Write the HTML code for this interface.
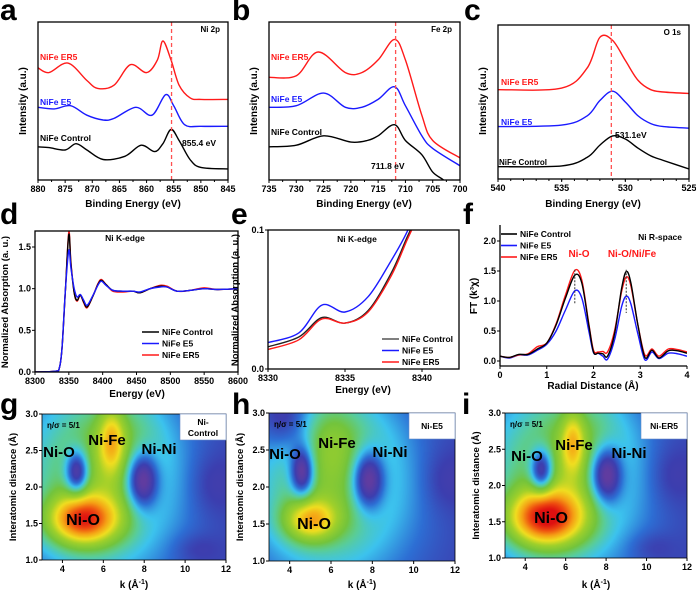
<!DOCTYPE html>
<html><head><meta charset="utf-8">
<style>
html,body{margin:0;padding:0;background:#fff;}
#wrap{position:relative;width:696px;height:591px;overflow:hidden;background:#fff;}
canvas{position:absolute;}
svg{position:absolute;left:0;top:0;}
text{font-family:"Liberation Sans",Arial,sans-serif;font-weight:bold;}
</style></head>
<body>
<div id="wrap">
<canvas id="hg" width="184" height="146" style="left:42px;top:414px"></canvas>
<canvas id="hh" width="186" height="148" style="left:269px;top:413px"></canvas>
<canvas id="hi" width="182" height="145" style="left:505px;top:413px"></canvas>
<svg id="fig" width="696" height="591"></svg>
</div>
<script>
// ---------- DATA ----------
const aCtrlX=[880,878,875,873,871,868,864,861,858.5,857,855.5,854,852,850,845];
const aCtrlY=[0.21,0.205,0.19,0.23,0.19,0.13,0.15,0.22,0.18,0.23,0.32,0.25,0.13,0.08,0.07];
const aE5X=[880,877,874,871,868,866,862,859,856.5,855,853,850,845];
const aE5Y=[0.46,0.45,0.47,0.41,0.38,0.39,0.46,0.41,0.54,0.47,0.35,0.34,0.34];
const aER5X=[880,878,874.5,871,869,866,863,860,858,857,855.5,854,852,850,845];
const aER5Y=[0.71,0.68,0.74,0.63,0.58,0.60,0.73,0.68,0.76,0.88,0.76,0.60,0.52,0.51,0.51];
const bCtrlX=[735,730,725,720,717,715,712,710,707,705,703,701];
const bCtrlY=[0.21,0.22,0.28,0.24,0.25,0.28,0.35,0.25,0.16,0.05,0.0,-0.06];
const bE5X=[735,730,725,721,718,715,712,710,707,705,700];
const bE5Y=[0.46,0.47,0.55,0.46,0.46,0.51,0.59,0.47,0.28,0.20,0.09];
const bER5X=[735,730,726,721,718,715,712,710,707,705,700];
const bER5Y=[0.65,0.66,0.81,0.68,0.68,0.76,0.89,0.76,0.41,0.25,0.14];
const cX=[540,535,533,532,531,530,529,528,527,525];
const cCtrlY=[0.08,0.085,0.14,0.22,0.28,0.26,0.2,0.15,0.12,0.065];
const cE5Y=[0.34,0.35,0.41,0.51,0.57,0.50,0.41,0.36,0.34,0.33];
const cER5Y=[0.58,0.59,0.72,0.92,0.90,0.77,0.64,0.58,0.565,0.555];
const dX=[8300,8330,8336,8340,8345,8350,8353,8358,8362,8367,8372,8377,8385,8393,8398,8405,8415,8430,8445,8455,8470,8485,8495,8510,8530,8550,8570,8600];
const dCtrlY=[0,0.01,0.05,0.3,1.0,1.65,1.3,0.95,0.86,0.92,0.84,0.78,0.9,1.05,1.1,1.05,0.98,0.97,0.97,0.95,1.0,1.03,1.02,0.97,0.98,1.0,0.99,1.0];
const dE5Y=[0,0.01,0.05,0.3,1.0,1.46,1.25,1.0,0.9,0.93,0.86,0.8,0.91,1.04,1.09,1.04,0.98,0.97,0.97,0.96,1.0,1.02,1.02,0.97,0.98,1.0,0.99,1.0];
const dER5Y=[0,0.01,0.05,0.3,1.0,1.68,1.32,0.95,0.85,0.92,0.83,0.77,0.9,1.06,1.11,1.05,0.97,0.96,0.97,0.95,1.0,1.04,1.03,0.97,0.98,1.01,0.99,1.0];
const eX=[8330,8332,8333.5,8335,8336.5,8338,8339,8339.5];
const eCtrlY=[0.016,0.023,0.037,0.033,0.042,0.069,0.094,0.106];
const eE5Y=[0.019,0.026,0.046,0.041,0.052,0.078,0.098,0.112];
const eER5Y=[0.014,0.021,0.036,0.033,0.041,0.067,0.092,0.104];
const fX=[0,0.2,0.4,0.6,0.8,1.0,1.2,1.4,1.6,1.75,1.9,2.0,2.1,2.2,2.3,2.45,2.6,2.7,2.8,2.95,3.1,3.25,3.4,3.6,3.8,4.0];
const fCtrlY=[0.08,0.06,0.11,0.11,0.2,0.3,0.6,1.05,1.43,1.3,0.6,0.15,0.13,0.12,0.08,0.45,1.2,1.49,1.3,0.6,0.06,0.18,0.05,0.17,0.17,0.13];
const fE5Y=[0.08,0.05,0.1,0.1,0.18,0.28,0.5,0.85,1.17,1.05,0.5,0.14,0.13,0.08,0.03,0.35,0.9,1.08,0.95,0.45,0.02,0.15,0.04,0.13,0.12,0.08];
const fER5Y=[0.08,0.06,0.1,0.12,0.24,0.3,0.62,1.1,1.51,1.35,0.62,0.18,0.15,0.16,0.15,0.5,1.15,1.4,1.25,0.6,0.1,0.2,0.08,0.2,0.19,0.15];
// Heatmap blobs (k, R, amplitude, sigmaK, sigmaR)
const gK=[5.8,7.0,5.0,6.4,4.7,7.9,11.3,10.5];
const gR=[2.1,2.7,1.55,2.65,2.2,2.1,2.05,1.15];
const gA=[0.36,0.08,0.6,0.3,-0.4,-0.4,-0.06,-0.05];
const gSK=[2.8,1.5,1.2,0.45,0.4,0.55,0.8,0.8];
const gSR=[0.95,0.4,0.24,0.32,0.22,0.28,0.3,0.15];
const hK=[6.0,7.0,5.0,6.0,4.6,7.8,3.8,11.5];
const hR=[2.0,2.7,1.55,2.7,2.2,2.1,2.9,2.1];
const hA=[0.34,0.06,0.4,0.08,-0.4,-0.4,-0.15,-0.06];
const hSK=[2.8,1.5,0.9,0.8,0.4,0.55,0.8,0.8];
const hSR=[0.9,0.4,0.2,0.4,0.24,0.28,0.3,0.3];
const iK=[5.8,7.0,5.0,6.35,4.8,8.0,11.2,10.2];
const iR=[2.1,2.7,1.55,2.6,2.2,2.15,2.15,1.15];
const iA=[0.36,0.08,0.66,0.28,-0.4,-0.4,-0.06,-0.05];
const iSK=[2.8,1.5,1.3,0.4,0.4,0.55,0.8,0.8];
const iSR=[0.95,0.4,0.27,0.3,0.22,0.28,0.3,0.15];

// ---------- HELPERS ----------
const NS='http://www.w3.org/2000/svg';
const svg=document.getElementById('fig');
function mk(tag,parent){const e=document.createElementNS(NS,tag);(parent||svg).appendChild(e);return e;}
function txt(x,y,s,size,fill,anchor,rot){
  const t=mk('text');t.setAttribute('x',x);t.setAttribute('y',y);
  t.setAttribute('font-size',size);t.setAttribute('fill',fill||'#000');
  t.setAttribute('text-anchor',anchor||'start');
  if(rot){t.setAttribute('transform','rotate('+rot+' '+x+' '+y+')');}
  t.textContent=s;return t;}
function lin(d0,d1,r0,r1){return v=>r0+(v-d0)/(d1-d0)*(r1-r0);}
function smoothPath(px,py){
  let d='M'+px[0].toFixed(1)+','+py[0].toFixed(1);
  for(let i=0;i<px.length-1;i++){
    const x0=px[Math.max(i-1,0)],y0=py[Math.max(i-1,0)],x1=px[i],y1=py[i],x2=px[i+1],y2=py[i+1];
    const x3=px[Math.min(i+2,px.length-1)],y3=py[Math.min(i+2,px.length-1)];
    const c1x=x1+(x2-x0)/6,c1y=y1+(y2-y0)/6,c2x=x2-(x3-x1)/6,c2y=y2-(y3-y1)/6;
    d+=' C'+c1x.toFixed(1)+','+c1y.toFixed(1)+' '+c2x.toFixed(1)+','+c2y.toFixed(1)+' '+x2.toFixed(1)+','+y2.toFixed(1);
  }return d;}
let clipN=0;
function clipFor(b){
  const id='clip'+(clipN++);const cp=mk('clipPath');cp.setAttribute('id',id);
  const r=mk('rect',cp);r.setAttribute('x',b.x);r.setAttribute('y',b.y);r.setAttribute('width',b.w);r.setAttribute('height',b.h);
  return id;}
function series(b,sx,sy,xs,ys,color,clip){
  const p=mk('path');p.setAttribute('d',smoothPath(xs.map(sx),ys.map(sy)));
  p.setAttribute('fill','none');p.setAttribute('stroke',color);p.setAttribute('stroke-width','1.4');
  p.setAttribute('clip-path','url(#'+clip+')');return p;}
function frame(b){
  const r=mk('rect');r.setAttribute('x',b.x);r.setAttribute('y',b.y);r.setAttribute('width',b.w);r.setAttribute('height',b.h);
  r.setAttribute('fill','none');r.setAttribute('stroke','#000');r.setAttribute('stroke-width','1.3');return r;}
function xticks(b,sx,vals,labels,minor){
  vals.forEach((v,i)=>{
    const l=mk('line');l.setAttribute('x1',sx(v));l.setAttribute('x2',sx(v));l.setAttribute('y1',b.y+b.h);l.setAttribute('y2',b.y+b.h+3);l.setAttribute('stroke','#000');
    
    
    const t=txt(sx(v),b.y+b.h+12,labels[i],9,'#000','middle');
    
    
  });
  (minor||[]).forEach(v=>{const l=mk('line');l.setAttribute('x1',sx(v));l.setAttribute('x2',sx(v));l.setAttribute('y1',b.y+b.h);l.setAttribute('y2',b.y+b.h+2);l.setAttribute('stroke','#000');
    
    });
}
function yticks(b,sy,vals,labels){
  vals.forEach((v,i)=>{
    const l=mk('line');l.setAttribute('x1',b.x-3);l.setAttribute('x2',b.x);l.setAttribute('y1',sy(v));l.setAttribute('y2',sy(v));l.setAttribute('stroke','#000');
    
    
    const t=txt(b.x-4,sy(v)+3,labels[i],9,'#000','end');
    
    
  });
}
function vdash(b,sx,v,color,dash,y1,y2){
  const l=mk('line');l.setAttribute('x1',sx(v));l.setAttribute('x2',sx(v));l.setAttribute('y1',y1===undefined?b.y:y1);l.setAttribute('y2',y2===undefined?b.y+b.h:y2);
  l.setAttribute('stroke',color);l.setAttribute('stroke-width','1.3');l.setAttribute('stroke-dasharray',dash);return l;}
function range(a,b,s){const r=[];for(let v=a;s>0?v<=b+1e-9:v>=b-1e-9;v+=s)r.push(+v.toFixed(3));return r;}
function letter(x,y,s){const t=txt(x,y,s,30,'#000','start');}

const RED='#ff1a1a',BLUE='#1a1aff',BLACK='#000';

// ---------- PANEL A ----------
{const b={x:38,y:22,w:190,h:158};const sx=lin(880,845,b.x,b.x+b.w),sy=lin(0,1,b.y+b.h,b.y);const cl=clipFor(b);
 let p=series(b,sx,sy,aCtrlX,aCtrlY,BLACK,cl);
 p=series(b,sx,sy,aE5X,aE5Y,BLUE,cl);
 p=series(b,sx,sy,aER5X,aER5Y,RED,cl);
 p=vdash(b,sx,855.4,'#ff5050','4,3');
 p=frame(b);
 xticks(b,sx,range(880,845,-5),range(880,845,-5).map(String),range(877.5,847.5,-5));
 let t=txt(220,32,'Ni 2p',8,'#000','end');
 t=txt(40,60,'NiFe ER5',8.5,RED);
 t=txt(40,105,'NiFe E5',8.5,BLUE);
 t=txt(40,141,'NiFe Control',8.5,BLACK);
 t=txt(182,146,'855.4 eV',8.5,BLACK);
 t=txt(26,101,'Intensity (a.u.)',10,'#000','middle',-90);
 t=txt(133,207,'Binding Energy (eV)',10,'#000','middle');
 letter(0,20,'a');}
// ---------- PANEL B ----------
{const b={x:269,y:22,w:191,h:158};const sx=lin(735,700,b.x,b.x+b.w),sy=lin(0,1,b.y+b.h,b.y);const cl=clipFor(b);
 let p=series(b,sx,sy,bCtrlX,bCtrlY,BLACK,cl);
 p=series(b,sx,sy,bE5X,bE5Y,BLUE,cl);
 p=series(b,sx,sy,bER5X,bER5Y,RED,cl);
 p=vdash(b,sx,711.8,'#ff5050','4,3');
 p=frame(b);
 xticks(b,sx,range(735,700,-5),range(735,700,-5).map(String),range(732.5,702.5,-5));
 let t=txt(452,32,'Fe 2p',8,'#000','end');
 t=txt(271,60,'NiFe ER5',8.5,RED);
 t=txt(271,102,'NiFe E5',8.5,BLUE);
 t=txt(271,135,'NiFe Control',8.5,BLACK);
 t=txt(371,169,'711.8 eV',8.5,BLACK);
 t=txt(257,101,'Intensity (a.u.)',10,'#000','middle',-90);
 t=txt(364,207,'Binding Energy (eV)',10,'#000','middle');
 letter(232,20,'b');}
// ---------- PANEL C ----------
{const b={x:498,y:25,w:191,h:154};const sx=lin(540,525,b.x,b.x+b.w),sy=lin(0,1,b.y+b.h,b.y);const cl=clipFor(b);
 let p=series(b,sx,sy,cX,cCtrlY,BLACK,cl);
 p=series(b,sx,sy,cX,cE5Y,BLUE,cl);
 p=series(b,sx,sy,cX,cER5Y,RED,cl);
 p=vdash(b,sx,531.1,'#ff5050','4,3');
 p=frame(b);
 xticks(b,sx,range(540,525,-5),range(540,525,-5).map(String),range(539,526,-1));
 let t=txt(681,35,'O 1s',8,'#000','end');
 t=txt(501,85,'NiFe ER5',8.5,RED);
 t=txt(501,125,'NiFe E5',8.5,BLUE);
 t=txt(499,165,'NiFe Control',8,BLACK);
 t=txt(615,138,'531.1eV',8.5,BLACK);
 t=txt(486,101,'Intensity (a.u.)',10,'#000','middle',-90);
 t=txt(593,207,'Binding Energy (eV)',10,'#000','middle');
 letter(464,20,'c');}
// ---------- PANEL D ----------
function legend(x,y,dy,lx,items,prefix){
  items.forEach((it,i)=>{
    const l=mk('line');l.setAttribute('x1',x);l.setAttribute('x2',x+lx);l.setAttribute('y1',y+i*dy);l.setAttribute('y2',y+i*dy);l.setAttribute('stroke',it[1]);l.setAttribute('stroke-width','1.6');
    
    
    const t=txt(x+lx+3,y+i*dy+3,it[0],8.5,'#000');
    
    
  });}
const LEG=[['NiFe Control',BLACK],['NiFe E5',BLUE],['NiFe ER5',RED]];
{const b={x:35,y:231,w:203,h:141};const sx=lin(8300,8600,b.x,b.x+b.w),sy=lin(0,1.5,b.y+b.h,247);const cl=clipFor(b);
 let p=series(b,sx,sy,dX,dER5Y,RED,cl);
 p=series(b,sx,sy,dX,dCtrlY,BLACK,cl);
 p=series(b,sx,sy,dX,dE5Y,BLUE,cl);
 p=frame(b);
 xticks(b,sx,range(8300,8600,50),range(8300,8600,50).map(String));
 yticks(b,sy,[0,0.5,1,1.5],['0.0','0.5','1.0','1.5']);
 legend(142,332,11.5,17,LEG,'d');
 let t=txt(125,241,'Ni K-edge',8.5,'#000','middle');
 t=txt(8,302,'Normalized Absorption (a. u.)',9.5,'#000','middle',-90);
 t=txt(137,397,'Energy (eV)',10,'#000','middle');
 letter(0,224,'d');}
// ---------- PANEL E ----------
{const b={x:268,y:230,w:191,h:139};const sx=lin(8330,8340,b.x,422),sy=lin(0,0.1,b.y+b.h,b.y);const cl=clipFor(b);
 let p=series(b,sx,sy,eX,eCtrlY,'#222',cl);
 p=series(b,sx,sy,eX,eER5Y,RED,cl);
 p=series(b,sx,sy,eX,eE5Y,BLUE,cl);
 p=frame(b);
 xticks(b,sx,[8330,8335,8340],['8330','8335','8340']);
 yticks(b,sy,[0,0.1],['0.0','0.1']);
 legend(382,339,11.5,17,[['NiFe Control','#555'],['NiFe E5',BLUE],['NiFe ER5',RED]],'e');
 let t=txt(357,242,'Ni K-edge',8.5,'#000','middle');
 t=txt(238,300,'Normalized Absorption (a. u.)',9.5,'#000','middle',-90);
 t=txt(363,393,'Energy (eV)',10,'#000','middle');
 letter(231,224,'e');}
// ---------- PANEL F ----------
{const b={x:500,y:225,w:187,h:141};const sx=lin(0,4,b.x,b.x+b.w),sy=lin(0,2,361,241);const cl=clipFor(b);
 let p=series(b,sx,sy,fX,fE5Y,BLUE,cl);
 p=series(b,sx,sy,fX,fER5Y,RED,cl);
 p=series(b,sx,sy,fX,fCtrlY,BLACK,cl);
 p=vdash(b,sx,1.6,'#333','2,1.5',sy(1.52),sy(0.95));p.setAttribute('stroke-width','1');
 p=vdash(b,sx,2.7,'#333','2,1.5',sy(1.52),sy(0.8));p.setAttribute('stroke-width','1');
 p=mk('line');p.setAttribute('x1',b.x);p.setAttribute('x2',b.x);p.setAttribute('y1',b.y);p.setAttribute('y2',b.y+b.h);p.setAttribute('stroke','#000');p.setAttribute('stroke-width','1.3');
 
 p=mk('line');p.setAttribute('x1',b.x);p.setAttribute('x2',b.x+b.w);p.setAttribute('y1',b.y+b.h);p.setAttribute('y2',b.y+b.h);p.setAttribute('stroke','#000');p.setAttribute('stroke-width','1.3');
 
 xticks(b,sx,[0,1,2,3,4],['0','1','2','3','4']);
 yticks(b,sy,[0,0.5,1,1.5,2],['0.0','0.5','1.0','1.5','2.0']);
 legend(501,234,11.5,16,LEG,'f');
 let t=txt(682,240,'Ni R-space',8.5,'#000','end');
 t=txt(579,257,'Ni-O',10,RED,'middle');
 t=txt(632,257,'Ni-O/Ni/Fe',10,RED,'middle');
 t=txt(477,296,'FT (k\u00B3\u03C7)',10,'#000','middle',-90);
 t=txt(593,389,'Radial Distance (\u00C5)',10,'#000','middle');
 letter(463,224,'f');}
// ---------- HEATMAPS ----------
const CST=[[0,[96,60,160]],[0.1,[60,62,175]],[0.18,[45,110,212]],[0.27,[60,195,238]],[0.35,[90,205,150]],[0.43,[115,196,60]],[0.55,[160,208,42]],[0.66,[240,222,32]],[0.78,[245,160,21]],[0.9,[238,74,16]],[1.0,[222,16,16]]];
function cmap(v){v=Math.max(0,Math.min(1,v));for(let i=1;i<CST.length;i++){if(v<=CST[i][0]){const a=CST[i-1],b=CST[i],t=(v-a[0])/(b[0]-a[0]);return a[1].map((c,j)=>c+(b[1][j]-c)*t);}}return CST[CST.length-1][1];}
function heat(id,K,R,A,SK,SR){
  const c=document.getElementById(id),ctx=c.getContext('2d'),w=c.width,h=c.height,img=ctx.createImageData(w,h);
  for(let y=0;y<h;y++){const r=3-(y/(h-1))*2;for(let x=0;x<w;x++){const k=3+(x/(w-1))*9;let v=0.1;
    for(let i=0;i<K.length;i++){v+=A[i]*Math.exp(-((k-K[i])**2)/(2*SK[i]*SK[i])-((r-R[i])**2)/(2*SR[i]*SR[i]));}
    const col=cmap(v),o=(y*w+x)*4;img.data[o]=col[0];img.data[o+1]=col[1];img.data[o+2]=col[2];img.data[o+3]=255;}}
  ctx.putImageData(img,0,0);}
heat('hg',gK,gR,gA,gSK,gSR);heat('hh',hK,hR,hA,hSK,hSR);heat('hi',iK,iR,iA,iSK,iSR);
function heatAxes(b,pre,name,labs,lt){
  const sx=lin(3,12,b.x,b.x+b.w),sy=lin(1,3,b.y+b.h,b.y);
  let p=frame(b);p.setAttribute('stroke-width','0.8');
  xticks(b,sx,[4,6,8,10,12],['4','6','8','10','12']);
  yticks(b,sy,[1,1.5,2,2.5,3],['1.0','1.5','2.0','2.5','3.0']);
  const bx=mk('rect');bx.setAttribute('x',b.x+b.w-46);bx.setAttribute('y',b.y);bx.setAttribute('width',46);bx.setAttribute('height',26);bx.setAttribute('fill','#fff');bx.setAttribute('stroke','#6a8cc8');bx.setAttribute('stroke-width','0.6');
  
  name.forEach((s,i)=>{const t=txt(b.x+b.w-23,b.y+(name.length>1?11+i*11:16),s,8.5,'#000','middle');});
  let t=txt(b.x+5,b.y+14,'\u03B7/\u03C3 = 5/1',8,'#000');
  const names=['Ni-O','Ni-Fe','Ni-Ni','Ni-O'],sizes=[15,15,15,16];
  labs.forEach((pt,i)=>{const t=txt(pt[0],pt[1],names[i],sizes[i],'#000','middle');});
  t=txt(b.x-26,b.y+b.h/2,'Interatomic distance (\u00C5)',9.5,'#000','middle',-90);
  t=mk('text');t.setAttribute('x',b.x+b.w/2);t.setAttribute('y',588);t.setAttribute('font-size','10');t.setAttribute('text-anchor','middle');
  t.innerHTML='k (\u00C5<tspan font-size="7" dy="-4">-1</tspan><tspan dy="4">)</tspan>';
  
  letter(lt[0],lt[1],pre);}
heatAxes({x:42,y:414,w:184,h:146},'g',['Ni-','Control'],[[59,457],[107,445],[159,454],[83,525]],[0,414]);
heatAxes({x:269,y:413,w:186,h:148},'h',['Ni-E5'],[[285,459],[337,448],[390,457],[314,529]],[232,414]);
heatAxes({x:505,y:413,w:182,h:145},'i',['Ni-ER5'],[[527,461],[574,450],[629,458],[551,523]],[462,414]);
</script>
</body></html>
